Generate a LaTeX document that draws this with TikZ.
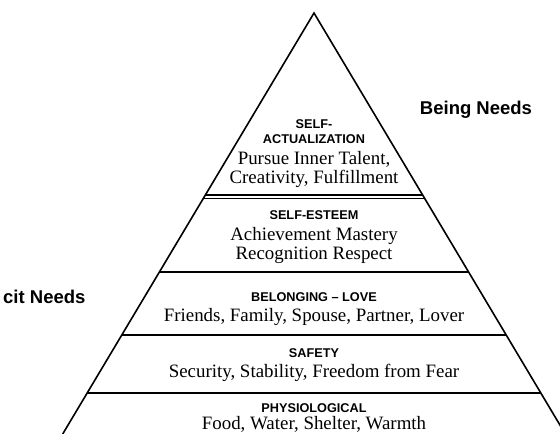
\documentclass[tikz,border=0pt]{standalone}
\usepackage{fontspec}
\setmainfont{Liberation Serif}
\setsansfont{Liberation Sans}
\begin{document}
\begin{tikzpicture}[x=1pt,y=-1pt,
  edge/.style={line width=1.6pt,line join=miter,line cap=butt},
  sep/.style={line width=1.4pt},
  head/.style={font=\sffamily\bfseries\fontsize{12.7}{14}\selectfont,inner sep=0pt,anchor=base},
  body/.style={font=\fontsize{18.9}{21}\selectfont,inner sep=0pt,anchor=base},
  side/.style={font=\sffamily\bfseries\fontsize{18.5}{20}\selectfont,inner sep=0pt,anchor=base}]
\useasboundingbox (0,0) rectangle (560,434);
\fill[white] (0,0) rectangle (560,434);
\begin{scope}
\clip (0,0) rectangle (560,434);
\coordinate (apex) at (314,13);
\coordinate (bl) at (62.7,434);
\coordinate (br) at (565.3,434);
\draw[edge] (bl) -- (apex) -- (br);
% separators
\draw[sep] (205.3,195) -- (422.7,195);
\draw[sep] (203.6,198.5) -- (424.4,198.5);
\draw[sep] (159.4,272) -- (468.6,272);
\draw[sep] (121.8,335) -- (506.2,335);
\draw[sep] (87.1,393) -- (540.9,393);
\end{scope}
% texts
\node[head] (sa1) at (314,128) {SELF-};
\node[head] (sa2) at (314,143) {ACTUALIZATION};
\node[body] (sa3) at (314,164) {Pursue Inner Talent,};
\node[body] (sa4) at (314,183.5) {Creativity, Fulfillment};
\node[head] (se1) at (314,219) {SELF-ESTEEM};
\node[body] (se2) at (314,240) {Achievement Mastery};
\node[body] (se3) at (314,259.5) {Recognition Respect};
\node[head] (bl1) at (314,301) {BELONGING -- LOVE};
\node[body] (bl2) at (314,321) {Friends, Family, Spouse, Partner, Lover};
\node[head] (sf1) at (314,357) {SAFETY};
\node[body] (sf2) at (314,377) {Security, Stability, Freedom from Fear};
\node[head] (ph1) at (314,412) {PHYSIOLOGICAL};
\node[body] (ph2) at (314,429.5) {Food, Water, Shelter, Warmth};
\node[side] (being) at (476,114) {Being Needs};
\node[side,anchor=base west] (def) at (3,303) {cit Needs};
\end{tikzpicture}
\end{document}
